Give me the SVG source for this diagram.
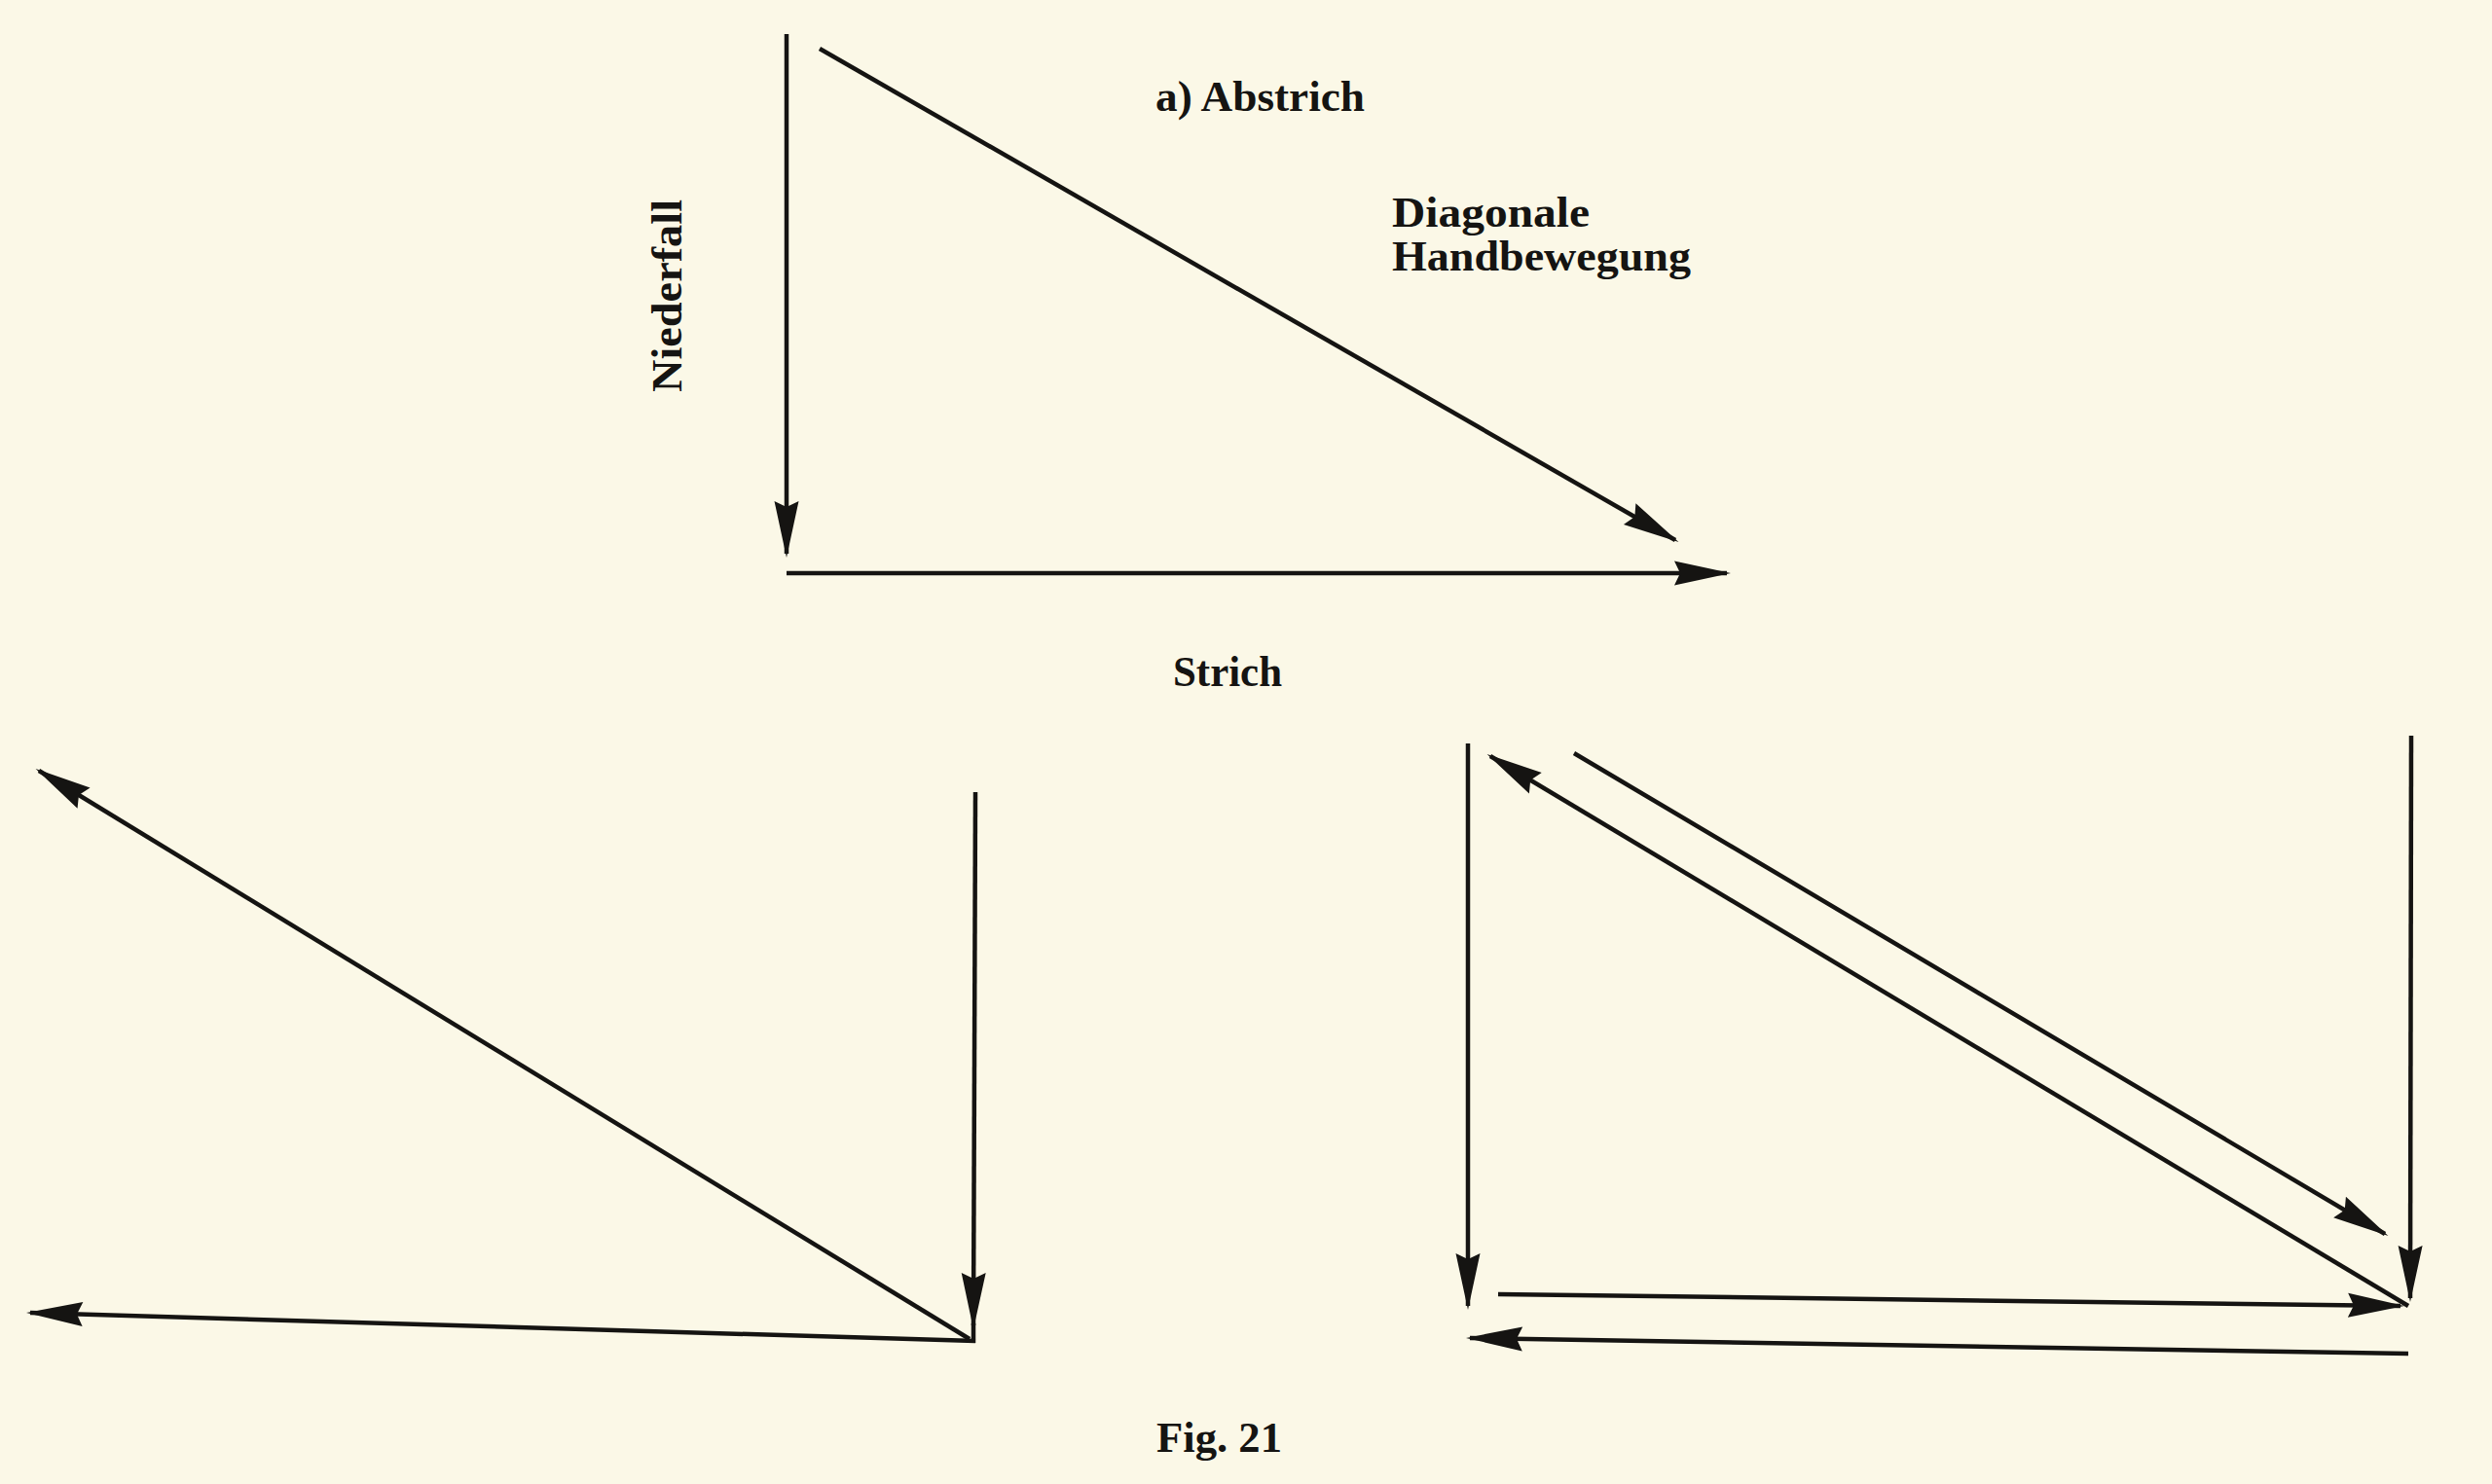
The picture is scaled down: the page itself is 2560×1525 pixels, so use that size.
<svg xmlns="http://www.w3.org/2000/svg" width="2560" height="1525" viewBox="0 0 2560 1525">
<defs>
<style>
.bg{fill:#FBF8E7}
.ln{stroke:#151412;stroke-width:4.5;fill:none;stroke-linecap:butt}
.ar{marker-end:url(#ah)}
.tx{font-family:"Liberation Serif","DejaVu Serif",serif;font-weight:bold;fill:#151412;font-size:45px}
</style>
<marker id="ah" markerUnits="userSpaceOnUse" viewBox="-62 -14 68 28" refX="0" refY="0" markerWidth="68" markerHeight="28" orient="auto">
<path d="M4,0 L-54,-12.5 L-48,0 L-54,12.5 Z" fill="#151412"/>
</marker>
</defs>
<rect class="bg" x="0" y="0" width="2560" height="1525"/>
<g id="connectors">
<!-- top figure -->
<line class="ln ar" x1="808" y1="35" x2="808" y2="569"/>
<line class="ln ar" x1="842" y1="50" x2="1721" y2="555"/>
<line class="ln ar" x1="808" y1="589" x2="1774" y2="589"/>
<!-- bottom left figure -->
<line class="ln ar" x1="1002" y1="814" x2="1000" y2="1362"/>
<line class="ln" x1="1000" y1="1360" x2="1000" y2="1380"/>
<line class="ln ar" x1="996" y1="1376" x2="40" y2="792"/>
<line class="ln ar" x1="1002" y1="1378" x2="31" y2="1349"/>
<!-- bottom right figure -->
<line class="ln ar" x1="1508" y1="764" x2="1508" y2="1342"/>
<line class="ln ar" x1="2477" y1="756" x2="2476" y2="1334"/>
<line class="ln ar" x1="2474" y1="1342" x2="1531" y2="777"/>
<line class="ln ar" x1="1617" y1="774" x2="2450" y2="1268"/>
<line class="ln ar" x1="1539" y1="1330" x2="2466" y2="1342"/>
<line class="ln ar" x1="2474" y1="1391" x2="1510" y2="1375"/>
</g>
<g id="label-abstrich"><text class="tx" x="1187" y="114" textLength="215" lengthAdjust="spacingAndGlyphs">a) Abstrich</text></g>
<g id="label-diagonale"><text class="tx" x="1430" y="233" textLength="203" lengthAdjust="spacingAndGlyphs">Diagonale</text>
<text class="tx" x="1430" y="278" textLength="307" lengthAdjust="spacingAndGlyphs">Handbewegung</text></g>
<g id="label-niederfall"><text class="tx" x="700" y="403" transform="rotate(-90 700 403)" textLength="198" lengthAdjust="spacingAndGlyphs">Niederfall</text></g>
<g id="label-strich"><text class="tx" x="1205" y="705" textLength="112" lengthAdjust="spacingAndGlyphs">Strich</text></g>
<g id="label-fig"><text class="tx" x="1188" y="1492" textLength="129" lengthAdjust="spacingAndGlyphs">Fig. 21</text></g>
</svg>
